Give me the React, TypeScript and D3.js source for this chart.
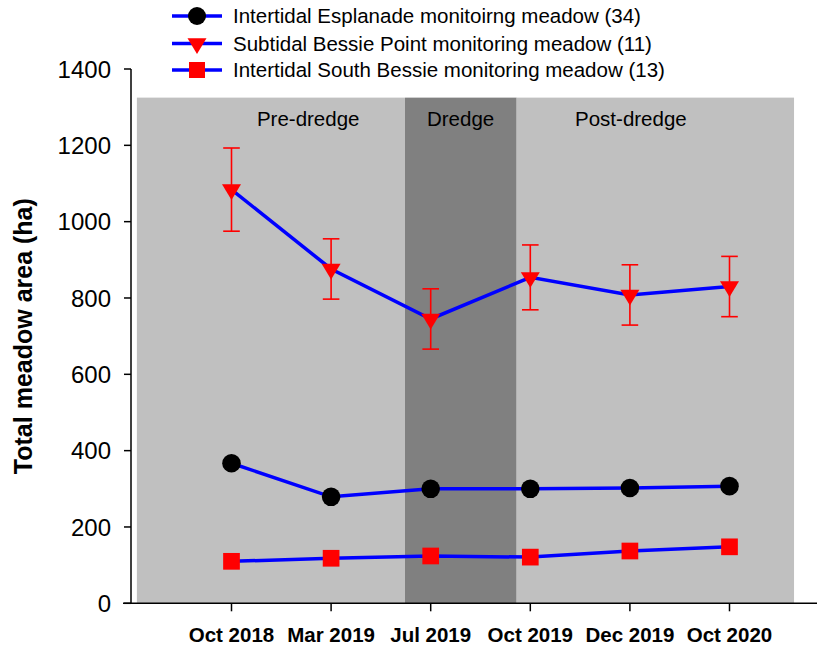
import React from "react";
import * as d3 from "d3";

const categories = ["Oct 2018", "Mar 2019", "Jul 2019", "Oct 2019", "Dec 2019", "Oct 2020"];
const esplanade = [367, 279, 300, 300, 302, 307];
const bessiePoint = [1084, 876, 745, 854, 808, 830];
const bessiePointErr = [109, 79, 79, 85, 79, 79];
const southBessie = [110, 118, 124, 121, 137, 148];
const yTicks = [0, 200, 400, 600, 800, 1000, 1200, 1400];
const legendLabels = [
  "Intertidal Esplanade monitoirng meadow (34)",
  "Subtidal Bessie Point monitoring meadow (11)",
  "Intertidal South Bessie monitoring meadow (13)",
];
const phaseLabels = ["Pre-dredge", "Dredge", "Post-dredge"];
const phaseStart = [-0.95, 1.742, 2.863];
const phaseEnd = [1.742, 2.863, 5.648];
const phaseLabelPos = [0.77, 2.3, 4.01];
const phaseTop = 1325;

const FONT = "'Liberation Sans', Arial, Helvetica, sans-serif";
const W = 817;
const H = 646;

export default function App() {
  const x = d3.scaleLinear().domain([0, 5]).range([231.5, 729.5]);
  const y = d3.scaleLinear().domain([0, 1400]).range([603.3, 69]);
  const axisX = 131;
  const axisY = y(0);

  const line = d3
    .line<number>()
    .x((_, i) => x(i))
    .y((d) => y(d));

  const phaseFill = ["#c0c0c0", "#808080", "#c0c0c0"];

  const tri = (cx: number, cy: number) => {
    // centroid at (cx, cy), pointing down
    const w = 19;
    const h = 15.7;
    return `M${cx - w / 2},${cy - h / 3}L${cx + w / 2},${cy - h / 3}L${cx},${cy + (2 * h) / 3}Z`;
  };

  const sq = 16.7;

  const legendY = [16, 43.5, 70];

  return (
    <svg
      width={W}
      height={H}
      viewBox={`0 0 ${W} ${H}`}
      style={{ position: "absolute", left: 0, top: 0, background: "#fff" }}
      fontFamily={FONT}
    >
      {/* phase backgrounds */}
      {phaseLabels.map((p, i) => (
        <rect
          key={p}
          x={x(phaseStart[i])}
          y={y(phaseTop)}
          width={x(phaseEnd[i]) - x(phaseStart[i])}
          height={y(0) - y(phaseTop)}
          fill={phaseFill[i]}
        />
      ))}
      {phaseLabels.map((p, i) => (
        <text key={p + "l"} x={x(phaseLabelPos[i])} y={125.5} fontSize={20.5} textAnchor="middle" fill="#000">
          {p}
        </text>
      ))}

      {/* axes */}
      <line x1={axisX} x2={axisX} y1={y(1400)} y2={axisY} stroke="#000" strokeWidth={1.5} />
      <line x1={123} x2={W} y1={axisY} y2={axisY} stroke="#000" strokeWidth={1.5} />
      {yTicks.map((t) => (
        <g key={t}>
          <line x1={124} x2={axisX} y1={y(t)} y2={y(t)} stroke="#000" strokeWidth={1.5} />
          <text x={111} y={y(t)} dy="0.36em" fontSize={24} textAnchor="end" fill="#000">
            {t}
          </text>
        </g>
      ))}
      {categories.map((c, i) => (
        <g key={c}>
          <line x1={x(i)} x2={x(i)} y1={axisY} y2={axisY + 8} stroke="#000" strokeWidth={1.5} />
          <text x={x(i)} y={641.5} fontSize={20.5} fontWeight="bold" textAnchor="middle" fill="#000">
            {c}
          </text>
        </g>
      ))}
      <text
        transform={`translate(32, ${(y(0) + y(1400)) / 2}) rotate(-90)`}
        fontSize={25}
        fontWeight="bold"
        textAnchor="middle"
        fill="#000"
      >
        Total meadow area (ha)
      </text>

      {/* series lines */}
      <path d={line(bessiePoint) || ""} fill="none" stroke="#0000ff" strokeWidth={3.5} />
      <path d={line(esplanade) || ""} fill="none" stroke="#0000ff" strokeWidth={3.5} />
      <path d={line(southBessie) || ""} fill="none" stroke="#0000ff" strokeWidth={3.5} />

      {/* error bars */}
      {bessiePoint.map((v, i) => {
        const e = bessiePointErr[i];
        const cx = x(i);
        return (
          <g key={"e" + i} stroke="#ff0000" strokeWidth={1.6}>
            <line x1={cx} x2={cx} y1={y(v + e)} y2={y(v - e)} />
            <line x1={cx - 8.3} x2={cx + 8.3} y1={y(v + e)} y2={y(v + e)} />
            <line x1={cx - 8.3} x2={cx + 8.3} y1={y(v - e)} y2={y(v - e)} />
          </g>
        );
      })}

      {/* markers */}
      {esplanade.map((v, i) => (
        <circle key={"c" + i} cx={x(i)} cy={y(v)} r={9.3} fill="#000" />
      ))}
      {bessiePoint.map((v, i) => (
        <path key={"t" + i} d={tri(x(i), y(v))} fill="#ff0000" />
      ))}
      {southBessie.map((v, i) => (
        <rect key={"s" + i} x={x(i) - sq / 2} y={y(v) - sq / 2} width={sq} height={sq} fill="#ff0000" />
      ))}

      {/* legend */}
      {legendLabels.map((l, i) => (
        <g key={l}>
          <line x1={172} x2={222} y1={legendY[i]} y2={legendY[i]} stroke="#0000ff" strokeWidth={3.5} />
          {i === 0 && <circle cx={197} cy={legendY[i]} r={9} fill="#000" />}
          {i === 1 && <path d={tri(197, legendY[i])} fill="#ff0000" />}
          {i === 2 && <rect x={197 - 8} y={legendY[i] - 8} width={16} height={16} fill="#ff0000" />}
          <text x={233} y={legendY[i]} dy="0.36em" fontSize={20.5} fill="#000">
            {l}
          </text>
        </g>
      ))}
    </svg>
  );
}
